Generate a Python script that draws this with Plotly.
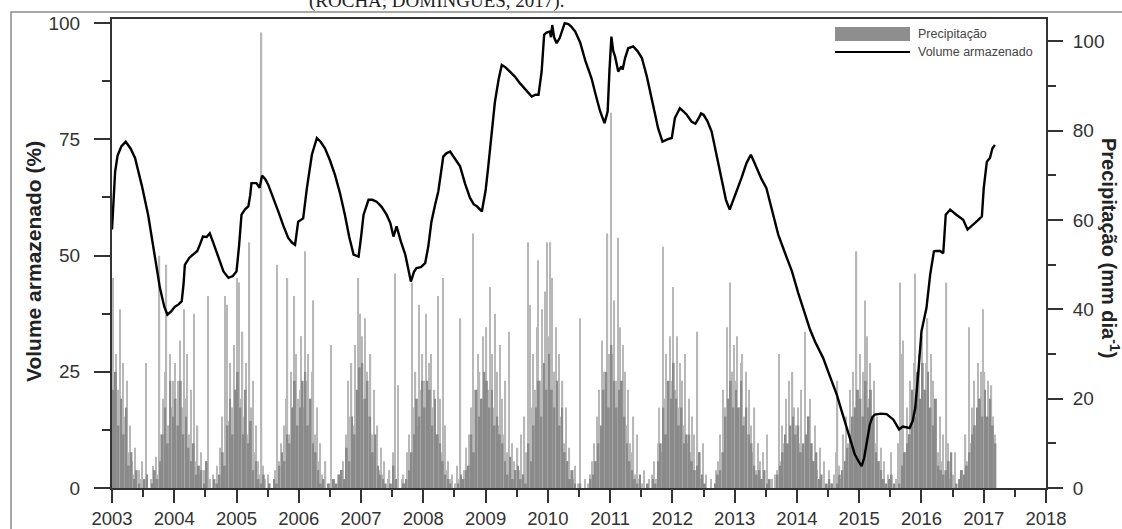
import plotly.graph_objects as go

# ---------------- data ----------------
years = list(range(2003, 2019))

# Stored volume (%) - time in decimal years
vol_t = [2003.00, 2003.05, 2003.09, 2003.15, 2003.22, 2003.30, 2003.37, 2003.48, 2003.58, 2003.68,
         2003.77, 2003.84, 2003.89, 2003.95, 2004.01, 2004.07, 2004.12, 2004.15, 2004.17, 2004.24,
         2004.31, 2004.37, 2004.41, 2004.46, 2004.52, 2004.57, 2004.62, 2004.68, 2004.74, 2004.79,
         2004.87, 2004.94, 2005.00, 2005.04, 2005.08, 2005.14, 2005.19, 2005.22, 2005.24, 2005.32,
         2005.37, 2005.41, 2005.46, 2005.51, 2005.59, 2005.67, 2005.75, 2005.83, 2005.89, 2005.94,
         2005.99, 2006.07, 2006.13, 2006.21, 2006.29, 2006.35, 2006.42, 2006.50, 2006.58, 2006.66,
         2006.74, 2006.81, 2006.88, 2006.96, 2007.00, 2007.04, 2007.12, 2007.18, 2007.25, 2007.33,
         2007.41, 2007.47, 2007.52, 2007.57, 2007.64, 2007.71, 2007.76, 2007.80, 2007.85, 2007.89,
         2007.96, 2008.03, 2008.08, 2008.13, 2008.19, 2008.24, 2008.28, 2008.32, 2008.37, 2008.43,
         2008.50, 2008.59, 2008.67, 2008.75, 2008.81, 2008.86, 2008.94, 2009.00, 2009.04, 2009.10,
         2009.15, 2009.21, 2009.26, 2009.32, 2009.39, 2009.47, 2009.55, 2009.65, 2009.74, 2009.80,
         2009.85, 2009.90, 2009.94, 2009.98, 2010.03, 2010.05, 2010.07, 2010.10, 2010.14, 2010.19,
         2010.23, 2010.27, 2010.33, 2010.38, 2010.44, 2010.52, 2010.60, 2010.70, 2010.77, 2010.84,
         2010.91, 2010.96, 2010.99, 2011.02, 2011.05, 2011.08, 2011.13, 2011.18, 2011.20, 2011.24,
         2011.29, 2011.37, 2011.44, 2011.51, 2011.59, 2011.67, 2011.72, 2011.77, 2011.84, 2011.92,
         2011.99, 2012.04, 2012.12, 2012.18, 2012.23, 2012.31, 2012.37, 2012.42, 2012.46, 2012.50,
         2012.56, 2012.63, 2012.71, 2012.79, 2012.86, 2012.92, 2013.00, 2013.05, 2013.11, 2013.19,
         2013.26, 2013.30, 2013.35, 2013.43, 2013.51, 2013.60, 2013.70, 2013.81, 2013.92, 2014.02,
         2014.13, 2014.21, 2014.29, 2014.42, 2014.53, 2014.64, 2014.72, 2014.80, 2014.87, 2014.93,
         2015.00, 2015.04, 2015.08, 2015.11, 2015.17, 2015.21, 2015.25, 2015.35, 2015.44, 2015.55,
         2015.64, 2015.70, 2015.73, 2015.81, 2015.86, 2015.90, 2015.95, 2016.00, 2016.08, 2016.14,
         2016.20, 2016.23, 2016.30, 2016.35, 2016.39, 2016.46, 2016.56, 2016.67, 2016.74, 2016.83,
         2016.90, 2016.97, 2017.00, 2017.05, 2017.10, 2017.14, 2017.18]
vol_v = [55.6, 68, 71.5, 73.5, 74.5, 73, 71, 65, 58.8, 50.5,
         43, 39, 37.3, 38, 39, 39.5, 40.2, 44, 48, 49.5,
         50.2, 51, 52.3, 54.1, 54, 54.8, 53, 50.9, 48.5, 46.6,
         45.2, 45.6, 46.6, 52, 58.8, 60, 60.6, 63, 65.6, 65.6,
         64.6, 67.2, 66.5, 65.2, 62.5, 59.5, 56.5, 53.8, 52.8, 52.3,
         57.3, 58, 64.5, 71.7, 75.3, 74.5, 73.1, 70.5, 67.4, 63.5,
         58.8, 54, 50.2, 49.8, 54, 58.8, 62, 62, 61.6, 60.5,
         58.8, 57, 54.1, 56.3, 53, 50.2, 47, 44.4, 46.5, 47.3,
         47.5, 48.4, 52, 57.3, 61, 63.8, 67.5, 71.3, 72, 72.4,
         71, 69.2, 65.5, 62.4, 61, 60.6, 59.5, 64, 68.8, 76,
         83.1, 88, 91, 90.5, 89.6, 88.5, 87.1, 85.5, 84.2, 84.6,
         84.6, 89.6, 97.5, 98, 98.2, 97, 99.6, 97, 95.7, 96.8,
         98.5, 100, 99.8, 99.2, 98.2, 95.8, 92, 88.2, 84.5, 81,
         78.5, 81, 90, 97.1, 94, 92.8, 89.6, 90.7, 90, 92.5,
         94.6, 95, 94, 92.5, 88.5, 83.9, 80.5, 77.4, 74.5, 75,
         75.3, 79.6, 81.7, 81, 80.3, 78.8, 78.4, 79.5, 80.6, 80.3,
         79, 76.7, 71.5, 65.9, 62, 59.9, 62.7, 64.5, 66.7, 69.9,
         71.7, 70.5, 68.8, 66.5, 64.5, 60, 54.5, 50.5, 46.6, 42,
         37.3, 34.1, 31.5, 28, 24, 20.1, 16.5, 12.9, 9.8, 7.2,
         5.5, 4.7, 6.5, 8.6, 13.6, 15.2, 15.8, 16, 15.9, 14.7,
         12.6, 13.2, 13.1, 12.9, 14.5, 17.2, 25, 33.7, 38.7, 45.9,
         50.9, 51, 51, 50.5, 58.8, 59.9, 58.8, 57.7, 55.6, 56.6,
         57.5, 58.4, 64.5, 70.2, 71, 73.1, 73.8]

# Precipitation (mm/day): ten-day peaks (36 per year, Jan-1st ... Dec-3rd)
prec_peak = {
    2003: [47, 18, 30, 22, 40, 12, 28, 16, 24, 8, 14, 6, 3, 9, 0, 4, 2, 6, 0, 28, 3, 0, 2, 5, 1, 7, 3, 52, 12, 20, 26, 50, 14, 30, 18, 24],
    2004: [28, 14, 24, 33, 18, 40, 20, 30, 12, 22, 9, 39, 6, 14, 3, 8, 0, 4, 6, 43, 2, 0, 3, 1, 5, 2, 9, 16, 8, 43, 41, 15, 28, 18, 32, 22],
    2005: [47, 46, 20, 35, 16, 28, 12, 55, 18, 24, 8, 14, 6, 3, 102, 5, 2, 0, 3, 1, 0, 2, 4, 50, 6, 10, 3, 14, 20, 47, 12, 26, 18, 43, 30, 20],
    2006: [22, 34, 18, 53, 24, 30, 14, 26, 42, 12, 18, 6, 10, 3, 2, 6, 0, 1, 32, 0, 2, 0, 3, 1, 4, 6, 2, 12, 24, 16, 28, 14, 32, 20, 47, 39],
    2007: [34, 20, 38, 26, 16, 30, 12, 22, 8, 14, 4, 9, 3, 6, 0, 2, 4, 0, 8, 48, 1, 23, 0, 2, 3, 1, 8, 12, 4, 46, 18, 26, 14, 41, 22, 30],
    2008: [24, 39, 16, 28, 30, 18, 22, 12, 43, 20, 8, 47, 14, 4, 6, 2, 3, 0, 1, 5, 2, 38, 0, 4, 9, 3, 12, 18, 57, 22, 14, 30, 26, 18, 34, 24],
    2009: [36, 22, 45, 30, 18, 39, 26, 14, 32, 20, 12, 24, 8, 35, 4, 10, 6, 2, 9, 4, 12, 3, 16, 8, 55, 41, 18, 30, 22, 36, 51, 24, 40, 28, 44, 55],
    2010: [34, 55, 47, 26, 36, 20, 30, 16, 24, 10, 18, 6, 9, 4, 2, 5, 0, 1, 38, 0, 0, 2, 0, 1, 3, 6, 10, 4, 16, 22, 12, 33, 26, 18, 57, 30],
    2011: [84, 30, 42, 24, 56, 36, 20, 32, 26, 14, 22, 10, 8, 16, 3, 12, 2, 0, 1, 4, 0, 0, 2, 0, 3, 6, 2, 10, 18, 8, 54, 20, 30, 16, 34, 24],
    2012: [45, 22, 34, 18, 28, 24, 14, 30, 10, 20, 8, 16, 12, 4, 35, 8, 2, 10, 0, 3, 0, 0, 2, 0, 1, 4, 6, 12, 8, 22, 18, 36, 20, 46, 26, 32],
    2013: [24, 34, 18, 28, 30, 16, 26, 12, 22, 14, 8, 18, 4, 10, 6, 2, 8, 0, 12, 1, 0, 2, 0, 3, 4, 30, 6, 14, 10, 20, 8, 24, 12, 26, 18, 14],
    2014: [18, 10, 22, 8, 35, 12, 16, 20, 10, 6, 14, 4, 2, 9, 0, 6, 0, 0, 4, 1, 0, 3, 8, 24, 5, 2, 12, 6, 16, 10, 22, 14, 26, 18, 53, 20],
    2015: [30, 16, 26, 42, 34, 20, 28, 14, 24, 10, 16, 6, 9, 2, 6, 0, 3, 1, 8, 0, 0, 2, 10, 46, 30, 33, 8, 18, 12, 24, 16, 28, 48, 22, 30, 18],
    2016: [34, 22, 28, 38, 16, 30, 24, 12, 20, 8, 16, 6, 12, 4, 46, 10, 2, 0, 3, 8, 0, 1, 0, 4, 2, 12, 6, 36, 10, 18, 24, 14, 28, 20, 26, 40],
    2017: [26, 14, 24, 20, 23, 16, 12],
}

# Precipitation (mm/day): level of the dense rainy-season mass (24 half-months per year)
prec_base = {
    2003: [22, 26, 14, 20, 12, 18, 5, 8, 2, 4, 1, 0, 2, 3, 0, 1, 4, 2, 6, 12, 18, 10, 24, 16],
    2004: [20, 14, 24, 12, 16, 9, 6, 10, 3, 5, 4, 1, 6, 0, 0, 2, 1, 3, 8, 5, 14, 20, 12, 22],
    2005: [26, 18, 12, 22, 10, 15, 4, 6, 2, 1, 3, 0, 1, 0, 2, 1, 5, 8, 6, 12, 10, 18, 24, 14],
    2006: [18, 24, 26, 14, 20, 10, 8, 4, 1, 2, 0, 1, 0, 2, 1, 3, 4, 2, 9, 6, 16, 12, 22, 27],
    2007: [28, 20, 24, 16, 8, 12, 5, 3, 2, 1, 0, 1, 5, 2, 0, 0, 1, 2, 4, 8, 12, 20, 16, 24],
    2008: [18, 24, 22, 14, 20, 12, 10, 6, 3, 2, 1, 0, 0, 1, 3, 2, 4, 5, 12, 8, 22, 16, 20, 26],
    2009: [24, 18, 22, 14, 16, 12, 10, 6, 3, 7, 2, 4, 5, 2, 3, 1, 10, 6, 14, 18, 24, 16, 28, 22],
    2010: [30, 22, 18, 24, 14, 18, 8, 6, 2, 4, 1, 0, 1, 0, 0, 0, 2, 3, 6, 10, 14, 22, 26, 18],
    2011: [32, 24, 18, 22, 24, 16, 10, 6, 4, 2, 1, 3, 0, 0, 1, 0, 2, 1, 6, 10, 18, 12, 24, 20],
    2012: [28, 20, 14, 18, 10, 12, 12, 6, 4, 5, 8, 3, 1, 0, 0, 0, 1, 3, 4, 8, 16, 20, 24, 18],
    2013: [22, 18, 24, 14, 18, 12, 10, 5, 3, 4, 2, 4, 1, 2, 0, 0, 3, 5, 8, 12, 10, 14, 16, 12],
    2014: [14, 8, 10, 12, 16, 10, 6, 8, 2, 3, 0, 1, 2, 1, 0, 1, 3, 4, 6, 9, 12, 16, 18, 22],
    2015: [20, 16, 24, 18, 22, 16, 8, 6, 4, 2, 1, 2, 3, 1, 0, 1, 5, 8, 10, 12, 22, 16, 26, 20],
    2016: [28, 22, 26, 18, 14, 20, 5, 4, 3, 4, 6, 8, 0, 1, 2, 4, 3, 5, 8, 12, 14, 18, 20, 16],
    2017: [22, 16, 20, 14, 10],
}

# time coordinates of the periods (decimal years)
peak_x, peak_y = [], []
for yr, vals in prec_peak.items():
    for i, v in enumerate(vals):
        peak_x.append(yr + (i + 0.5) / 36)
        peak_y.append(v)
base_x, base_y = [], []
for yr, vals in prec_base.items():
    for i, v in enumerate(vals):
        base_x.append(yr + (i + 0.5) / 24)
        base_y.append(v)

# ---------------- figure ----------------
AX = "#333333"
FONT = "Liberation Sans, Arial, sans-serif"

fig = go.Figure()
fig.add_trace(go.Bar(x=peak_x, y=peak_y, width=0.02, marker=dict(color="#b8b8b8", line=dict(width=0)),
                     yaxis="y", showlegend=False, name="Precipitação"))
fig.add_trace(go.Bar(x=base_x, y=base_y, width=0.03, marker=dict(color="#8a8a8a", line=dict(width=0)),
                     yaxis="y", showlegend=False, name="Precipitação"))
fig.add_trace(go.Scatter(x=vol_t, y=vol_v, mode="lines", line=dict(color="black", width=2.4),
                         yaxis="y2", showlegend=False, name="Volume armazenado"))

tickfont = dict(family=FONT, size=19, color=AX)

fig.update_layout(
    width=1122, height=529,
    margin=dict(l=112, r=76, t=19, b=41),
    paper_bgcolor="white", plot_bgcolor="white",
    barmode="overlay",
    font=dict(family=FONT, color=AX),
    xaxis=dict(range=[2003, 2018], tickvals=years, tickformat="d", ticks="outside", ticklen=13,
               tickwidth=1.5, tickcolor=AX, showline=True, linecolor=AX, linewidth=2, mirror=True,
               showgrid=False, zeroline=False, tickfont=dict(family=FONT, size=18.5, color=AX),
               ticklabelstandoff=0, automargin=False,
               minor=dict(dtick=0.5, tick0=2003, ticks="outside", ticklen=7, tickwidth=1.5, tickcolor=AX)),
    yaxis=dict(range=[0, 105], side="right", tickvals=[0, 20, 40, 60, 80, 100], ticks="outside",
               ticklen=15, tickwidth=1.5, tickcolor=AX, showline=True, linecolor=AX, linewidth=2,
               showgrid=False, zeroline=False, tickfont=tickfont, ticklabelstandoff=6, automargin=False,
               minor=dict(dtick=10, tick0=0, ticks="outside", ticklen=8, tickwidth=1.5, tickcolor=AX)),
    yaxis2=dict(range=[0, 100.9], side="left", overlaying="y", tickvals=[0, 25, 50, 75, 100],
                ticks="outside", ticklen=16, tickwidth=1.5, tickcolor=AX, showline=True, linecolor=AX,
                linewidth=2, showgrid=False, zeroline=False, tickfont=tickfont, ticklabelstandoff=10,
                automargin=False,
                minor=dict(dtick=12.5, tick0=0, ticks="outside", ticklen=8, tickwidth=1.5, tickcolor=AX)),
)

# plot-area pixel helpers for paper coordinates
L, R, T, B = 112, 1046, 19, 488
def px(x):
    return (x - L) / (R - L)
def py(y):
    return (B - y) / (B - T)

shapes = [
    # outer figure frame
    dict(type="rect", xref="paper", yref="paper", x0=px(11), x1=px(1140), y0=py(560), y1=py(12),
         line=dict(color="#8a8a8a", width=1.5), fillcolor="rgba(0,0,0,0)", layer="below"),
    # legend swatches
    dict(type="rect", xref="paper", yref="paper", x0=px(835), x1=px(910), y0=py(41), y1=py(27),
         line=dict(width=0), fillcolor="#8e8e8e"),
    dict(type="line", xref="paper", yref="paper", x0=px(835), x1=px(910), y0=py(52), y1=py(52),
         line=dict(color="black", width=2)),
]
annotations = [
    dict(text="Precipitação", xref="paper", yref="paper", x=px(916), y=py(34), xanchor="left",
         yanchor="middle", showarrow=False, font=dict(family=FONT, size=12.5, color="#444")),
    dict(text="Volume armazenado", xref="paper", yref="paper", x=px(916), y=py(52), xanchor="left",
         yanchor="middle", showarrow=False, font=dict(family=FONT, size=12.5, color="#444")),
    dict(text="<b>Volume armazenado (%)</b>", xref="paper", yref="paper", x=px(33), y=py(262),
         xanchor="center", yanchor="middle", textangle=-90, showarrow=False,
         font=dict(family=FONT, size=21, color="#222")),
    dict(text="<b>Precipitação (mm dia<sup>-1</sup>)</b>", xref="paper", yref="paper", x=px(1111),
         y=py(248), xanchor="center", yanchor="middle", textangle=90, showarrow=False,
         font=dict(family=FONT, size=20, color="#222")),
    dict(text="(ROCHA; DOMINGUES, 2017).", xref="paper", yref="paper", x=px(436), y=py(1),
         xanchor="center", yanchor="middle", showarrow=False,
         font=dict(family="Liberation Serif, Times New Roman, serif", size=19, color="#222")),
]
fig.update_layout(shapes=shapes, annotations=annotations)

fig.write_html("out.html")
